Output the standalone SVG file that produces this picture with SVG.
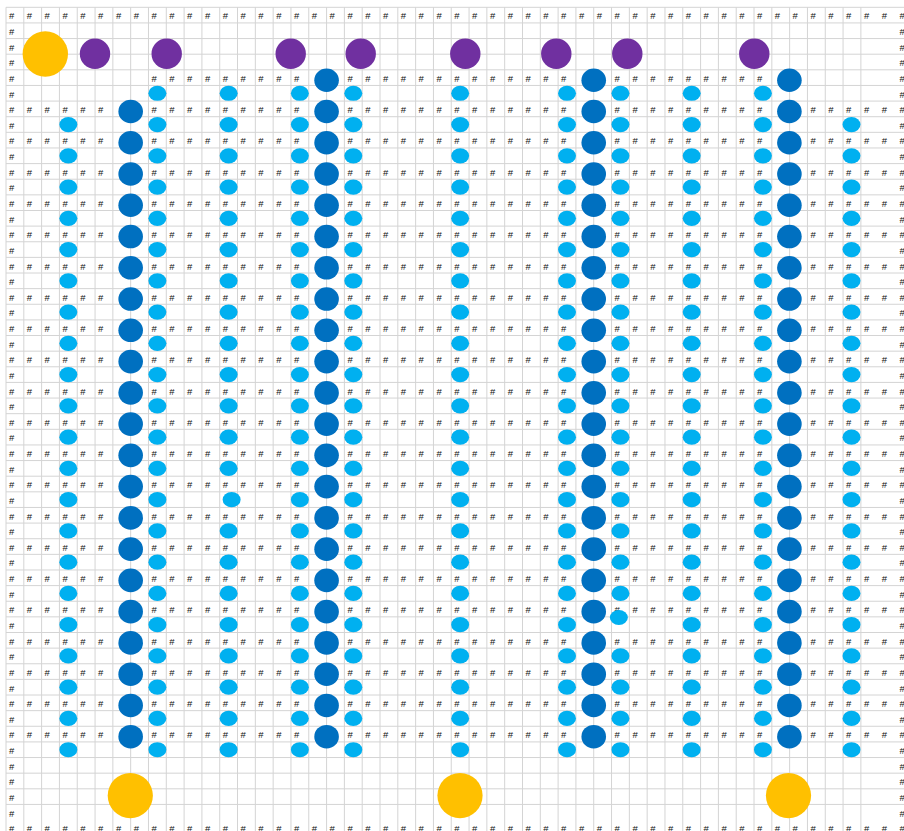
<svg xmlns="http://www.w3.org/2000/svg" xmlns:xlink="http://www.w3.org/1999/xlink" width="904" height="831" viewBox="0 0 904 831">
<style>
.g{fill:none;stroke:#d4d4d4;stroke-width:1}
.h{font-family:"Liberation Sans",Arial,sans-serif;font-size:9.5px;fill:#111}
</style>
<defs>
<ellipse id="L" rx="9" ry="7.6" fill="#00B0F0"/>
<ellipse id="D" rx="12.3" ry="11.8" fill="#0070C0"/>
<text id="tFull" class="h" x="26.8 44.6 62.4 80.2 98.1 115.9 133.7 151.5 169.3 187.1 204.9 222.7 240.5 258.3 276.2 294 311.8 329.6 347.4 365.2 383 400.8 418.6 436.4 454.3 472.1 489.9 507.7 525.5 543.3 561.1 578.9 596.7 614.5 632.4 650.2 668 685.8 703.6 721.4 739.2 757 774.8 792.6 810.5 828.3 846.1 863.9 881.7" y="0">#################################################</text>
<text id="tEven" class="h" x="26.8 44.6 62.4 80.2 98.1 151.5 169.3 187.1 204.9 222.7 240.5 258.3 276.2 294 347.4 365.2 383 400.8 418.6 436.4 454.3 472.1 489.9 507.7 525.5 543.3 561.1 614.5 632.4 650.2 668 685.8 703.6 721.4 739.2 757 810.5 828.3 846.1 863.9 881.7" y="0">#########################################</text>
<text id="t4" class="h" x="151.5 169.3 187.1 204.9 222.7 240.5 258.3 276.2 294 347.4 365.2 383 400.8 418.6 436.4 454.3 472.1 489.9 507.7 525.5 543.3 561.1 614.5 632.4 650.2 668 685.8 703.6 721.4 739.2 757" y="0">###############################</text>
<g id="LB">
<use href="#L" y="124.53"/><use href="#L" y="155.79"/><use href="#L" y="187.05"/><use href="#L" y="218.31"/><use href="#L" y="249.57"/><use href="#L" y="280.83"/><use href="#L" y="312.09"/><use href="#L" y="343.35"/><use href="#L" y="374.61"/><use href="#L" y="405.87"/><use href="#L" y="437.13"/><use href="#L" y="468.39"/><use href="#L" y="499.65"/><use href="#L" y="530.91"/><use href="#L" y="562.17"/><use href="#L" y="593.43"/><use href="#L" y="624.69"/><use href="#L" y="655.95"/><use href="#L" y="687.21"/><use href="#L" y="718.47"/><use href="#L" y="749.73"/>
</g>
<g id="LA"><use href="#L" y="93.27"/><use href="#LB"/></g>
<g id="DB">
<use href="#D" y="111.5"/><use href="#D" y="142.76"/><use href="#D" y="174.02"/><use href="#D" y="205.28"/><use href="#D" y="236.54"/><use href="#D" y="267.8"/><use href="#D" y="299.06"/><use href="#D" y="330.32"/><use href="#D" y="361.58"/><use href="#D" y="392.84"/><use href="#D" y="424.1"/><use href="#D" y="455.36"/><use href="#D" y="486.62"/><use href="#D" y="517.88"/><use href="#D" y="549.14"/><use href="#D" y="580.4"/><use href="#D" y="611.66"/><use href="#D" y="642.92"/><use href="#D" y="674.18"/><use href="#D" y="705.44"/><use href="#D" y="736.7"/>
</g>
<g id="DA"><use href="#D" y="80.24"/><use href="#DB"/></g>
</defs>
<rect width="904" height="831" fill="#fff"/>
<g id="grid">
<path class="g" d="M6 7.3v824m17.81-824v824m17.81-824v824m17.81-824v824m17.81-824v824m17.81-824v824m17.81-824v824m17.81-824v824m17.81-824v824m17.81-824v824m17.81-824v824m17.81-824v824m17.81-824v824m17.81-824v824m17.81-824v824m17.81-824v824m17.81-824v824m17.81-824v824m17.81-824v824m17.81-824v824m17.81-824v824m17.81-824v824m17.81-824v824m17.81-824v824m17.81-824v824m17.81-824v824m17.81-824v824m17.81-824v824m17.81-824v824m17.81-824v824m17.81-824v824m17.81-824v824m17.81-824v824m17.81-824v824m17.81-824v824m17.81-824v824m17.81-824v824m17.81-824v824m17.81-824v824m17.81-824v824m17.81-824v824m17.81-824v824m17.81-824v824m17.81-824v824m17.81-824v824m17.81-824v824m17.81-824v824m17.81-824v824m17.81-824v824"/>
<path class="g" d="M6 7.3h898m-898 15.63h898m-898 15.63h898m-898 15.63h898m-898 15.63h898m-898 15.63h898m-898 15.63h898m-898 15.63h898m-898 15.63h898m-898 15.63h898m-898 15.63h898m-898 15.63h898m-898 15.63h898m-898 15.63h898m-898 15.63h898m-898 15.63h898m-898 15.63h898m-898 15.63h898m-898 15.63h898m-898 15.63h898m-898 15.63h898m-898 15.63h898m-898 15.63h898m-898 15.63h898m-898 15.63h898m-898 15.63h898m-898 15.63h898m-898 15.63h898m-898 15.63h898m-898 15.63h898m-898 15.63h898m-898 15.63h898m-898 15.63h898m-898 15.63h898m-898 15.63h898m-898 15.63h898m-898 15.63h898m-898 15.63h898m-898 15.63h898m-898 15.63h898m-898 15.63h898m-898 15.63h898m-898 15.63h898m-898 15.63h898m-898 15.63h898m-898 15.63h898m-898 15.63h898m-898 15.63h898m-898 15.63h898m-898 15.63h898m-898 15.63h898m-898 15.63h898"/>
</g>
<g id="cells">
<text class="h" x="9 9 9 9 9 9 9 9 9 9 9 9 9 9 9 9 9 9 9 9 9 9 9 9 9 9 9 9 9 9 9 9 9 9 9 9 9 9 9 9 9 9 9 9 9 9 9 9 9 9 9 9 9" y="19.43 35.06 50.69 66.32 81.95 97.58 113.21 128.84 144.47 160.1 175.73 191.36 206.99 222.62 238.25 253.88 269.51 285.14 300.77 316.4 332.03 347.66 363.29 378.92 394.55 410.18 425.81 441.44 457.07 472.7 488.33 503.96 519.59 535.22 550.85 566.48 582.11 597.74 613.37 629 644.63 660.26 675.89 691.52 707.15 722.78 738.41 754.04 769.67 785.3 800.93 816.56 832.19">#####################################################</text>
<text class="h" x="899.5 899.5 899.5 899.5 899.5 899.5 899.5 899.5 899.5 899.5 899.5 899.5 899.5 899.5 899.5 899.5 899.5 899.5 899.5 899.5 899.5 899.5 899.5 899.5 899.5 899.5 899.5 899.5 899.5 899.5 899.5 899.5 899.5 899.5 899.5 899.5 899.5 899.5 899.5 899.5 899.5 899.5 899.5 899.5 899.5 899.5 899.5 899.5 899.5 899.5 899.5 899.5 899.5" y="19.43 35.06 50.69 66.32 81.95 97.58 113.21 128.84 144.47 160.1 175.73 191.36 206.99 222.62 238.25 253.88 269.51 285.14 300.77 316.4 332.03 347.66 363.29 378.92 394.55 410.18 425.81 441.44 457.07 472.7 488.33 503.96 519.59 535.22 550.85 566.48 582.11 597.74 613.37 629 644.63 660.26 675.89 691.52 707.15 722.78 738.41 754.04 769.67 785.3 800.93 816.56 832.19">#####################################################</text>
<use href="#tFull" y="19.43"/>
<use href="#t4" y="81.95"/>
<use href="#tEven" y="113.21"/><use href="#tEven" y="144.47"/><use href="#tEven" y="175.73"/><use href="#tEven" y="206.99"/><use href="#tEven" y="238.25"/><use href="#tEven" y="269.51"/><use href="#tEven" y="300.77"/><use href="#tEven" y="332.03"/><use href="#tEven" y="363.29"/><use href="#tEven" y="394.55"/><use href="#tEven" y="425.81"/><use href="#tEven" y="457.07"/><use href="#tEven" y="488.33"/><use href="#tEven" y="519.59"/><use href="#tEven" y="550.85"/><use href="#tEven" y="582.11"/><use href="#tEven" y="613.37"/><use href="#tEven" y="644.63"/><use href="#tEven" y="675.89"/><use href="#tEven" y="707.15"/><use href="#tEven" y="738.41"/>
<use href="#tFull" y="832.19"/>
</g>
<g id="connectors"></g>
<g id="light-c3"><use href="#LB" x="68.34"/></g>
<g id="light-c8"><use href="#LA" x="157.39"/></g>
<g id="light-c12" transform="translate(228.63 0)">
<use href="#L" y="93.27"/><use href="#L" y="124.53"/><use href="#L" y="155.79"/><use href="#L" y="187.05"/><use href="#L" y="218.31"/><use href="#L" y="249.57"/><use href="#L" y="280.83"/><use href="#L" y="312.09"/><use href="#L" y="343.35"/><use href="#L" y="374.61"/><use href="#L" y="405.87"/><use href="#L" y="437.13"/><use href="#L" y="468.39"/><use href="#L" x="3" y="499.65"/><use href="#L" y="530.91"/><use href="#L" y="562.17"/><use href="#L" y="593.43"/><use href="#L" y="624.69"/><use href="#L" y="655.95"/><use href="#L" y="687.21"/><use href="#L" y="718.47"/><use href="#L" y="749.73"/>
</g>
<g id="light-c16"><use href="#LA" x="299.87"/></g>
<g id="light-c19"><use href="#LA" x="353.3"/></g>
<g id="light-c25"><use href="#LA" x="460.16"/></g>
<g id="light-c31"><use href="#LA" x="567.02"/></g>
<g id="light-c34" transform="translate(620.45 0)">
<use href="#L" y="93.27"/><use href="#L" y="124.53"/><use href="#L" y="155.79"/><use href="#L" y="187.05"/><use href="#L" y="218.31"/><use href="#L" y="249.57"/><use href="#L" y="280.83"/><use href="#L" y="312.09"/><use href="#L" y="343.35"/><use href="#L" y="374.61"/><use href="#L" y="405.87"/><use href="#L" y="437.13"/><use href="#L" y="468.39"/><use href="#L" y="499.65"/><use href="#L" y="530.91"/><use href="#L" y="562.17"/><use href="#L" y="593.43"/><use href="#L" x="-1.6" y="617.5"/><use href="#L" y="655.95"/><use href="#L" y="687.21"/><use href="#L" y="718.47"/><use href="#L" y="749.73"/>
</g>
<g id="light-c38"><use href="#LA" x="691.69"/></g>
<g id="light-c42"><use href="#LA" x="762.93"/></g>
<g id="light-c47"><use href="#LB" x="851.5"/></g>
<g id="dark-a"><use href="#DB" x="130.67"/></g>
<g id="dark-b"><use href="#DA" x="326.58"/></g>
<g id="dark-c"><use href="#DA" x="593.73"/></g>
<g id="dark-d"><use href="#DA" x="789.4"/></g>
<g id="purple" fill="#7030A0">
<circle cx="95" cy="53.8" r="15.2"/>
<circle cx="166.7" cy="53.8" r="15.2"/>
<circle cx="290.7" cy="53.8" r="15.2"/>
<circle cx="360.7" cy="53.8" r="15.2"/>
<circle cx="465.3" cy="53.8" r="15.2"/>
<circle cx="556.3" cy="53.8" r="15.2"/>
<circle cx="627.3" cy="53.8" r="15.2"/>
<circle cx="754.3" cy="53.8" r="15.2"/>
</g>
<g id="yellow" fill="#FFC000">
<circle cx="45.3" cy="54" r="22.7"/>
<circle cx="130.3" cy="795.6" r="22.6"/>
<circle cx="460" cy="795.6" r="22.6"/>
<circle cx="788.5" cy="795.6" r="22.6"/>
</g>
</svg>
